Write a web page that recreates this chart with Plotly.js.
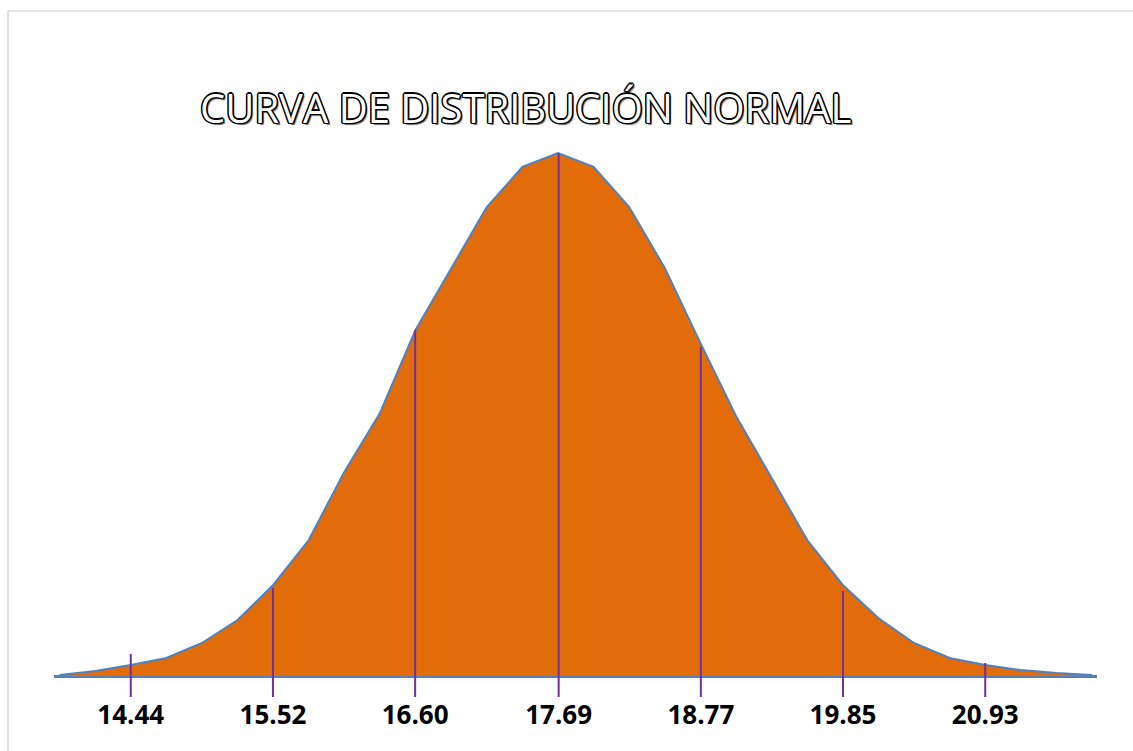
<!DOCTYPE html>
<html>
<head>
<meta charset="utf-8">
<script src="https://cdn.plot.ly/plotly-3.0.1.min.js"></script>
<style>html,body{margin:0;padding:0;background:#fff;}#chart{width:1133px;height:751px;}</style>
</head>
<body>
<div id="chart"></div>
<script>
// Curve points (x value, density)
const curveX = [13.899, 14.170, 14.440, 14.710, 14.981, 15.251, 15.522, 15.792, 16.062, 16.333,
                16.603, 16.874, 17.144, 17.415, 17.685, 17.955, 18.226, 18.496, 18.767, 19.037,
                19.307, 19.578, 19.848, 20.118, 20.389, 20.659, 20.930, 21.200, 21.470, 21.741];
const curveY = [0.0007, 0.0035, 0.0078, 0.0127, 0.0233, 0.0395, 0.0642, 0.0959, 0.1439, 0.1855,
                0.2440, 0.2877, 0.3307, 0.3590, 0.3688, 0.3590, 0.3307, 0.2877, 0.2348, 0.1834,
                0.1396, 0.0959, 0.0642, 0.0409, 0.0233, 0.0127, 0.0078, 0.0042, 0.0021, 0.0007];

// Vertical marker lines at mean ± k·sd
const markerX = [14.44, 15.52, 16.60, 17.69, 18.77, 19.85, 20.93];
const markerTop = [0.0155, 0.0621, 0.2440, 0.3688, 0.2320, 0.0599, 0.0092];
const markerBottom = -0.0148;

const tickLabels = ["14.44", "15.52", "16.60", "17.69", "18.77", "19.85", "20.93"];

const traces = [{
  x: curveX, y: curveY, type: 'scatter', mode: 'lines',
  fill: 'tozeroy', fillcolor: '#E36C0A',
  line: {color: '#4F81BD', width: 2},
  hoverinfo: 'skip', showlegend: false
}];
markerX.forEach((v, i) => {
  traces.push({
    x: [v, v], y: [markerBottom, markerTop[i]], type: 'scatter', mode: 'lines',
    line: {color: '#7030A0', width: 2}, hoverinfo: 'skip', showlegend: false
  });
});

const layout = {
  width: 1133, height: 751,
  paper_bgcolor: '#ffffff', plot_bgcolor: 'rgba(0,0,0,0)',
  margin: {l: 54, r: 36, t: 140, b: 54},
  showlegend: false,
  title: {
    text: 'CURVA DE DISTRIBUCIÓN NORMAL',
    x: 0.464, xanchor: 'center', y: 0.855, yanchor: 'middle', xref: 'container', yref: 'container',
    font: {family: 'Open Sans, sans-serif', size: 40, color: '#ffffff',
      shadow: '-1px -1px 0 #000, 1px -1px 0 #000, -1px 1px 0 #000, 1px 1px 0 #000, 0 1.5px 0 #000, 1.5px 0 0 #000, -1.5px 0 0 #000, 0 -1.5px 0 #000, 2px 2px 1px #666'}
  },
  xaxis: {
    range: [13.857, 21.779],
    tickmode: 'array', tickvals: markerX, ticktext: tickLabels,
    ticks: '', showgrid: false, zeroline: false, showline: false,
    tickfont: {family: 'Open Sans, sans-serif', size: 26, color: '#000000', weight: 'bold'},
    ticklabelstandoff: 0,
    fixedrange: true
  },
  yaxis: {
    range: [markerBottom, 0.378],
    showticklabels: false, showgrid: false, ticks: '',
    zeroline: true, zerolinecolor: '#5B7FB5', zerolinewidth: 3,
    showline: false, fixedrange: true
  },
  shapes: [
    {type: 'line', xref: 'paper', yref: 'paper', x0: -0.0441, x1: 1.05, y0: 1.2316, y1: 1.2316,
     line: {color: '#D9D9D9', width: 1.5}},
    {type: 'line', xref: 'paper', yref: 'paper', x0: -0.0441, x1: -0.0441, y0: 1.2316, y1: -0.1,
     line: {color: '#D9D9D9', width: 1.5}}
  ]
};

Plotly.newPlot('chart', traces, layout, {displayModeBar: false, staticPlot: true});
</script>
</body>
</html>
